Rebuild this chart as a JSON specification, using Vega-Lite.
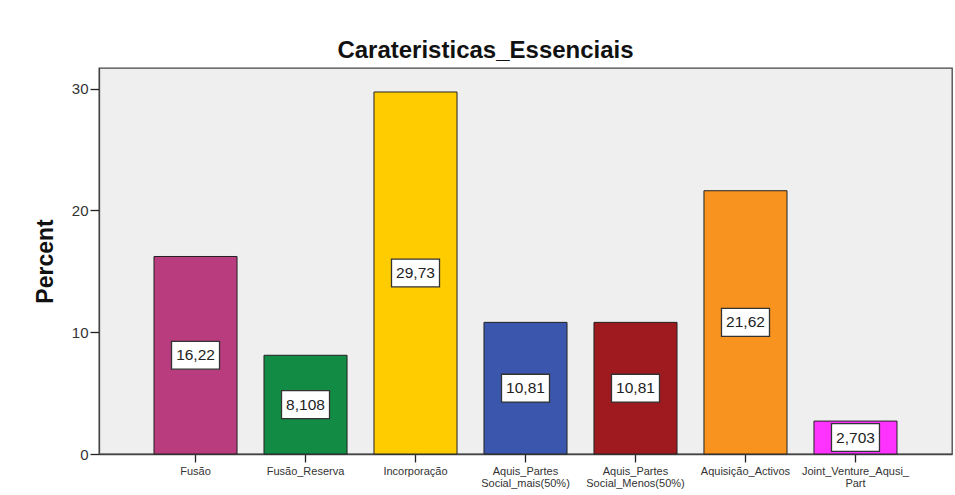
{
  "$schema": "https://vega.github.io/schema/vega-lite/v6.json",
  "width": 853,
  "height": 386,
  "autosize": "none",
  "padding": {"left": 99, "top": 68, "right": 3, "bottom": 41},
  "background": "white",
  "title": {
    "text": "Carateristicas_Essenciais",
    "font": "Liberation Sans",
    "fontSize": 24,
    "fontWeight": "bold",
    "color": "#111",
    "anchor": "middle",
    "dx": -40,
    "offset": 5
  },
  "config": {
    "view": {"fill": "#EFEFEF", "stroke": "#444", "strokeWidth": 1.3},
    "axis": {"labelFont": "Liberation Sans", "titleFont": "Liberation Sans"}
  },
  "data": {
    "values": [
      {"category": "Fusão", "value": 16.22, "label": "16,22", "color": "#B83C7E"},
      {"category": "Fusão_Reserva", "value": 8.108, "label": "8,108", "color": "#128C45"},
      {"category": "Incorporação", "value": 29.73, "label": "29,73", "color": "#FFCC00"},
      {"category": "Aquis_Partes|Social_mais(50%)", "value": 10.81, "label": "10,81", "color": "#3A56AD"},
      {"category": "Aquis_Partes|Social_Menos(50%)", "value": 10.81, "label": "10,81", "color": "#9E1A1E"},
      {"category": "Aquisição_Activos", "value": 21.62, "label": "21,62", "color": "#F7931E"},
      {"category": "Joint_Venture_Aqusi_|Part", "value": 2.703, "label": "2,703", "color": "#FF33FF"}
    ]
  },
  "encoding": {
    "x": {
      "field": "category",
      "type": "nominal",
      "sort": null,
      "scale": {"paddingInner": 0.245, "paddingOuter": 0.5},
      "axis": {
        "title": null,
        "labelAngle": 0,
        "labelExpr": "split(datum.label, '|')",
        "labelFontSize": 11,
        "labelColor": "#333",
        "labelLineHeight": 12,
        "labelPadding": 3,
        "tickColor": "#222",
        "tickSize": 8,
        "tickWidth": 1.3,
        "domainColor": "#444",
        "domainWidth": 1.3
      }
    }
  },
  "layer": [
    {
      "mark": {"type": "bar", "stroke": "#222", "strokeWidth": 1},
      "encoding": {
        "y": {
          "field": "value",
          "type": "quantitative",
          "scale": {"domain": [0, 31.7], "nice": false, "zero": true},
          "axis": {
            "title": "Percent",
            "titleFontSize": 23,
            "titleFontWeight": "bold",
            "titleColor": "#111",
            "titlePadding": 14,
            "values": [0, 10, 20, 30],
            "labelFontSize": 15,
            "labelColor": "#333",
            "labelPadding": 2,
            "tickColor": "#222",
            "tickSize": 9,
            "tickWidth": 1.3,
            "grid": false,
            "domainColor": "#444",
            "domainWidth": 1.3
          }
        },
        "color": {"field": "color", "type": "nominal", "scale": null, "legend": null}
      }
    },
    {
      "transform": [{"calculate": "datum.value / 2", "as": "mid"}],
      "mark": {
        "type": "point",
        "shape": "M -1 -0.58 L 1 -0.58 L 1 0.58 L -1 0.58 Z",
        "size": 2304,
        "filled": true,
        "fill": "white",
        "stroke": "#333",
        "strokeWidth": 1.3,
        "opacity": 1
      },
      "encoding": {
        "y": {"field": "mid", "type": "quantitative"}
      }
    },
    {
      "transform": [{"calculate": "datum.value / 2", "as": "mid"}],
      "mark": {
        "type": "text",
        "font": "Liberation Sans",
        "fontSize": 15.5,
        "color": "#222",
        "baseline": "middle",
        "align": "center"
      },
      "encoding": {
        "y": {"field": "mid", "type": "quantitative"},
        "text": {"field": "label", "type": "nominal"}
      }
    }
  ]
}
